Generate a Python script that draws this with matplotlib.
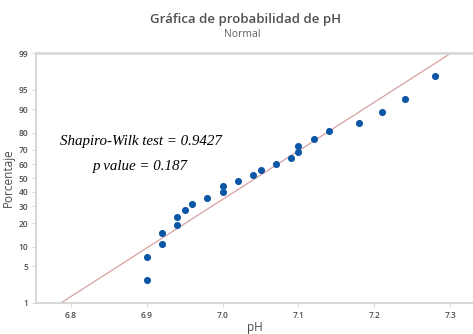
import numpy as np
import matplotlib
matplotlib.use("Agg")
import matplotlib.pyplot as plt
from statistics import NormalDist

# pH values (sorted) and plotted percentages
ph = [6.90, 6.90, 6.92, 6.92, 6.94, 6.94, 6.95, 6.96, 6.98, 7.00, 7.00, 7.02,
      7.04, 7.05, 7.07, 7.09, 7.10, 7.10, 7.12, 7.14, 7.18, 7.21, 7.24, 7.28]
percent = [2.9, 7.0, 11.1, 15.2, 19.3, 23.4, 27.5, 31.6, 35.7, 39.8, 43.9, 48.0,
           52.0, 56.1, 60.2, 64.3, 68.4, 72.5, 76.6, 80.7, 84.8, 88.9, 93.0, 97.1]

# fitted normal line (read from where it crosses 1% and 99%)
fit_mean = 7.044
fit_sd = 0.1105

y_ticks = [1, 5, 10, 20, 30, 40, 50, 60, 70, 80, 90, 95, 99]
x_ticks = [6.8, 6.9, 7.0, 7.1, 7.2, 7.3]

nd = NormalDist()
_inv = np.vectorize(lambda v: nd.inv_cdf(v / 100.0), otypes=[float])
_cdf = np.vectorize(lambda v: nd.cdf(v) * 100.0, otypes=[float])


def to_z(p):
    p = np.clip(np.asarray(p, dtype=float), 1e-6, 100 - 1e-6)
    return _inv(p)


def from_z(z):
    return _cdf(np.asarray(z, dtype=float))


plt.rcParams["font.family"] = ["Open Sans", "DejaVu Sans"]

grey = "#d9d9d9"
text_col = "#4d4d4d"

fig = plt.figure(figsize=(4.73, 3.34), dpi=100)
ax = fig.add_axes([0.076, 0.093, 0.924, 0.748])
ax.set_yscale("function", functions=(to_z, from_z))

# fitted line
line_p = np.array([0.5, 99.5])
line_x = [fit_mean + fit_sd * nd.inv_cdf(p / 100.0) for p in line_p]
ax.plot(line_x, line_p, color="#d9a0a0", linewidth=0.9, zorder=2)

ax.scatter(ph, percent, s=26, color="#0b56a5", zorder=3, linewidths=0)

ax.set_xlim(6.754, 7.33)
ax.set_ylim(1, 99)
ax.set_yticks(y_ticks)
ax.set_yticklabels([str(t) for t in y_ticks])
ax.set_xticks(x_ticks)
ax.set_xticklabels([f"{t:.1f}" for t in x_ticks])
ax.minorticks_off()

for side in ["left", "bottom", "top"]:
    ax.spines[side].set_color(grey)
ax.spines["top"].set_linewidth(2.0)
ax.spines["left"].set_linewidth(1.5)
ax.spines["bottom"].set_linewidth(1.5)
ax.spines["right"].set_visible(False)

ax.tick_params(axis="both", labelsize=6, colors=grey, labelcolor=text_col,
               length=3, width=0.8, pad=2.5)
for lbl in ax.get_xticklabels() + ax.get_yticklabels():
    lbl.set_fontweight("semibold")

ax.set_xlabel("pH", fontsize=8.5, color=text_col, labelpad=1)
ax.set_ylabel("Porcentaje", fontsize=8.5, color=text_col, labelpad=3)

fig.text(0.518, 0.943, "Gráfica de probabilidad de pH", ha="center",
         va="center", fontsize=9.5, fontweight="semibold", color="#505050")
fig.text(0.512, 0.898, "Normal", ha="center", va="center",
         fontsize=7.5, color="#606060")

ax.text(6.7855, 74.9, "Shapiro-Wilk test = 0.9427", fontsize=10.8,
        va="center", fontstyle="italic", family="Liberation Serif",
        color="black")
ax.text(6.829, 58.8, "p value = 0.187", fontsize=10.8, va="center",
        fontstyle="italic", family="Liberation Serif", color="black")

fig.savefig("out.png", dpi=100)
